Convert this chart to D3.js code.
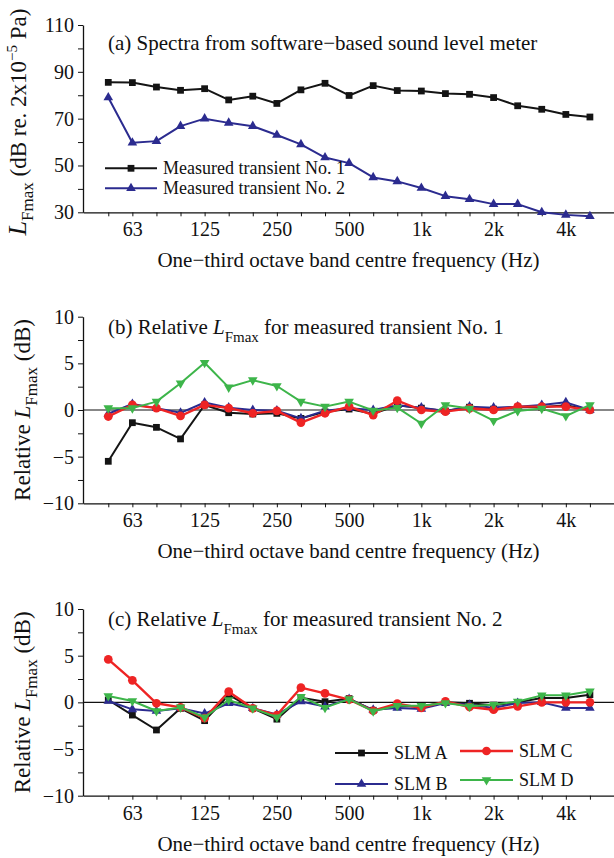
<!DOCTYPE html>
<html>
<head>
<meta charset="utf-8">
<script src="https://cdn.jsdelivr.net/npm/d3@7"></script>
<style>
  html, body { margin: 0; padding: 0; background: #fff; }
  svg { display: block; }
</style>
</head>
<body>
<svg id="chart" width="614" height="858"></svg>
<script>
// One-third octave band centre frequencies (Hz)
const bands = ["50","63","80","100","125","160","200","250","315","400","500",
               "630","800","1k","1.25k","1.6k","2k","2.5k","3.15k","4k","5k"];
const labelledBands = ["63","125","250","500","1k","2k","4k"];

// (a) L_Fmax spectra, dB re 20 µPa
const transient1 = [85.5, 85.4, 83.5, 82.1, 82.8, 78.0, 79.6, 76.5, 82.3, 85.1, 79.9,
                    84.1, 82.0, 81.8, 80.7, 80.4, 79.0, 75.5, 74.0, 71.8, 70.7];
const transient2 = [79.0, 59.7, 60.4, 66.8, 70.0, 68.2, 66.8, 63.0, 59.0, 53.4, 51.0,
                    44.9, 43.2, 40.4, 36.9, 35.6, 33.5, 33.5, 30.0, 28.9, 28.3];

// (b) Relative L_Fmax per meter, transient No. 1 (dB)
const slmA1 = [-5.5, -1.36, -1.86, -3.1, 0.54, -0.29, -0.43, -0.36, -0.9, -0.2, 0.1,
               -0.4, 0.5, 0.2, -0.1, 0.3, 0.1, 0.3, 0.3, 0.5, 0.0];
const slmB1 = [-0.4, 0.64, 0.2, -0.3, 0.8, 0.25, 0.0, -0.07, -0.9, -0.07, 0.2,
               0.0, 0.5, 0.25, -0.1, 0.36, 0.25, 0.36, 0.54, 0.82, 0.0];
const slmC1 = [-0.7, 0.55, 0.2, -0.64, 0.55, 0.2, -0.35, -0.1, -1.35, -0.35, 0.36,
               -0.54, 1.0, 0.0, -0.18, 0.18, 0.0, 0.36, 0.36, 0.36, 0.0];
const slmD1 = [0.2, 0.2, 0.9, 2.86, 5.07, 2.43, 3.2, 2.57, 0.9, 0.36, 0.9,
               -0.05, 0.25, -1.45, 0.54, 0.15, -1.15, -0.1, 0.15, -0.65, 0.54];

// (c) Relative L_Fmax per meter, transient No. 2 (dB)
const slmA2 = [0.25, -1.36, -2.96, -0.64, -1.96, 0.79, -0.64, -1.8, 0.5, 0.07, 0.4,
               -0.85, -0.4, -0.45, 0.0, -0.1, -0.3, 0.0, 0.46, 0.46, 0.82];
const slmB2 = [0.15, -0.75, -0.93, -0.64, -1.2, -0.1, -0.64, -1.3, 0.1, -0.46, 0.35,
               -0.8, -0.6, -0.7, -0.07, -0.25, -0.6, -0.07, 0.0, -0.6, -0.6];
const slmC2 = [4.6, 2.36, -0.1, -0.54, -1.7, 1.14, -0.64, -1.36, 1.57, 0.96, 0.3,
               -0.9, -0.14, -0.6, 0.1, -0.5, -0.79, -0.43, 0.0, 0.0, 0.0];
const slmD2 = [0.68, 0.14, -0.93, -0.54, -1.6, 0.25, -0.64, -1.6, 0.6, -0.57, 0.35,
               -0.96, -0.36, -0.36, -0.07, -0.43, -0.25, 0.1, 0.75, 0.75, 1.18];

const FONT = '"Liberation Serif", "Times New Roman", Times, serif';
const COLORS = { A: "#141414", B: "#2b2b8f", C: "#ee2424", D: "#3db54a" };
const SHAPES = { A: "square", B: "up", C: "circle", D: "down" };

const svg = d3.select("#chart");
svg.append("rect").attr("width", 614).attr("height", 858).attr("fill", "#fff");

// Shared band-index axis
const x = d3.scaleLinear().domain([-1.05, 21]).range([83, 614]);

function markerPath(shape) {
  if (shape === "square") return d3.symbol(d3.symbolSquare, 46)();
  if (shape === "circle") return d3.symbol(d3.symbolCircle, 60)();
  return d3.symbol(d3.symbolTriangle, 40)();
}

function drawSeries(g, y, values, color, shape, width) {
  const line = d3.line().x((d, i) => x(i)).y(d => y(d));
  g.append("path").datum(values)
    .attr("d", line).attr("fill", "none")
    .attr("stroke", color).attr("stroke-width", width)
    .attr("stroke-linejoin", "round");
  const p = markerPath(shape);
  g.selectAll(null).data(values).enter().append("path")
    .attr("d", p)
    .attr("transform", (d, i) => `translate(${x(i)},${y(d)})` + (shape === "down" ? " rotate(180)" : ""))
    .attr("fill", color);
}

function legendItem(g, lx0, lx1, ly, color, shape, label, width) {
  g.append("line").attr("x1", lx0).attr("x2", lx1).attr("y1", ly).attr("y2", ly)
    .attr("stroke", color).attr("stroke-width", width);
  g.append("path").attr("d", markerPath(shape))
    .attr("transform", `translate(${(lx0 + lx1) / 2},${ly})` + (shape === "down" ? " rotate(180)" : ""))
    .attr("fill", color);
  g.append("text").attr("x", lx1 + 6).attr("y", ly + 6)
    .attr("font-family", FONT).attr("font-size", 18).attr("fill", "#111")
    .text(label);
}

function drawAxes(g, y, major, minor, fmt) {
  const yAxis = d3.axisLeft(y).tickValues(minor).tickSize(5).tickSizeOuter(0).tickPadding(4)
    .tickFormat(v => major.includes(v) ? fmt(v) : "");
  const gy = g.append("g").attr("transform", `translate(${x.range()[0]},0)`).call(yAxis);
  const xAxis = d3.axisBottom(x).tickValues(d3.range(bands.length)).tickSize(4).tickSizeOuter(0).tickPadding(6)
    .tickFormat(i => labelledBands.includes(bands[i]) ? bands[i] : "");
  const gx = g.append("g").attr("transform", `translate(0,${y.range()[0]})`).call(xAxis);
  [gx, gy].forEach(a => {
    a.selectAll("path.domain").attr("stroke", "#111").attr("stroke-width", 1.3);
    a.selectAll(".tick line").attr("stroke", "#111").attr("stroke-width", 1);
    a.selectAll("text").attr("font-family", FONT).attr("font-size", 20).attr("fill", "#111");
  });
  g.append("text")
    .attr("x", (x.range()[0] + x.range()[1]) / 2).attr("y", y.range()[0] + 55)
    .attr("text-anchor", "middle")
    .attr("font-family", FONT).attr("font-size", 21).attr("fill", "#111")
    .text("One\u2212third octave band centre frequency (Hz)");
}

const minus = v => (v < 0 ? "\u2212" + Math.abs(v) : String(v));

// ---------- Panel (a) ----------
{
  const g = svg.append("g");
  const y = d3.scaleLinear().domain([30, 110]).range([212.3, 25]);
  drawAxes(g, y, [30, 50, 70, 90, 110], d3.range(30, 111, 10), minus);
  drawSeries(g, y, transient1, COLORS.A, "square", 2);
  drawSeries(g, y, transient2, COLORS.B, "up", 2);

  g.append("text").attr("x", 108).attr("y", 50)
    .attr("font-family", FONT).attr("font-size", 21).attr("fill", "#111")
    .text("(a) Spectra from software\u2212based sound level meter");

  legendItem(g, 105, 157, 168.3, COLORS.A, "square", "Measured transient No. 1", 2);
  legendItem(g, 105, 157, 188.3, COLORS.B, "up", "Measured transient No. 2", 2);

  const t = g.append("text")
    .attr("transform", `translate(26,122) rotate(-90)`)
    .attr("text-anchor", "middle")
    .attr("font-family", FONT).attr("font-size", 23).attr("fill", "#111");
  t.append("tspan").attr("font-style", "italic").attr("font-size", 26).text("L");
  t.append("tspan").attr("font-size", 17).attr("dy", 7).text("Fmax");
  t.append("tspan").attr("dy", -7).text(" (dB re. 2x10");
  t.append("tspan").attr("font-size", 15).attr("dy", -9).text("\u22125");
  t.append("tspan").attr("dy", 9).text(" Pa)");
}

// ---------- Panels (b) and (c) ----------
function relativePanel(top, bottom, letter, transientNo, series, titleBaseline) {
  const g = svg.append("g");
  const y = d3.scaleLinear().domain([-10, 10]).range([bottom, top]);
  drawAxes(g, y, [-10, -5, 0, 5, 10], d3.range(-10, 10.1, 2.5), minus);

  g.append("line").attr("x1", x.range()[0]).attr("x2", x.range()[1])
    .attr("y1", y(0)).attr("y2", y(0)).attr("stroke", "#111").attr("stroke-width", 1.2);

  series.forEach(s => drawSeries(g, y, s.values, COLORS[s.key], SHAPES[s.key], s.key === "C" ? 2.4 : 2));

  const t = g.append("text").attr("x", 108).attr("y", titleBaseline)
    .attr("font-family", FONT).attr("font-size", 21).attr("fill", "#111");
  t.append("tspan").text(`(${letter}) Relative `);
  t.append("tspan").attr("font-style", "italic").text("L");
  t.append("tspan").attr("font-size", 15).attr("dy", 8).text("Fmax");
  t.append("tspan").attr("dy", -8).text(` for measured transient No. ${transientNo}`);

  const yt = g.append("text")
    .attr("transform", `translate(30,${y(0)}) rotate(-90)`)
    .attr("text-anchor", "middle")
    .attr("font-family", FONT).attr("font-size", 23).attr("fill", "#111");
  yt.append("tspan").text("Relative ");
  yt.append("tspan").attr("font-style", "italic").text("L");
  yt.append("tspan").attr("font-size", 17).attr("dy", 7).text("Fmax");
  yt.append("tspan").attr("dy", -7).text(" (dB)");
  return g;
}

relativePanel(316.7, 503.3, "b", 1, [
  { key: "A", values: slmA1 }, { key: "B", values: slmB1 },
  { key: "C", values: slmC1 }, { key: "D", values: slmD1 }
], 333.5);

const gc = relativePanel(609, 795.7, "c", 2, [
  { key: "A", values: slmA2 }, { key: "B", values: slmB2 },
  { key: "C", values: slmC2 }, { key: "D", values: slmD2 }
], 625.7);

legendItem(gc, 335, 388, 753, COLORS.A, "square", "SLM A", 2);
legendItem(gc, 335, 388, 784, COLORS.B, "up", "SLM B", 2);
legendItem(gc, 460, 513, 751, COLORS.C, "circle", "SLM C", 2.4);
legendItem(gc, 460, 513, 780, COLORS.D, "down", "SLM D", 2);
</script>
</body>
</html>
